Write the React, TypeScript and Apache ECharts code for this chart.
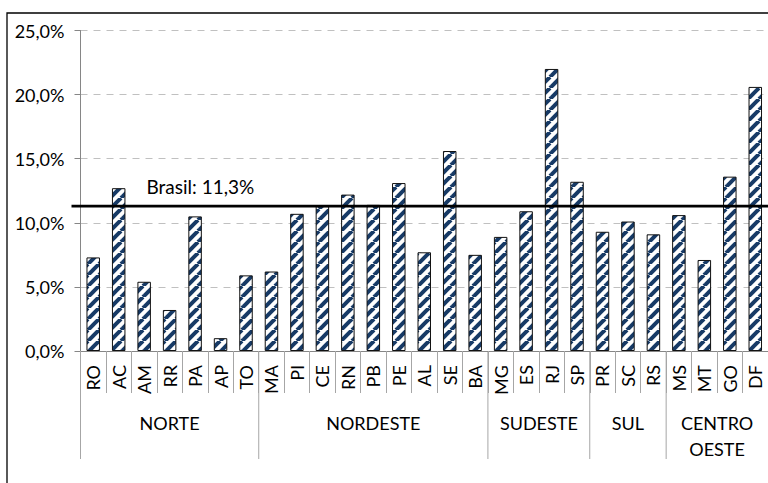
import React, { useEffect, useRef } from "react";
import * as echarts from "echarts";

const states = ["RO","AC","AM","RR","PA","AP","TO","MA","PI","CE","RN","PB","PE","AL","SE","BA","MG","ES","RJ","SP","PR","SC","RS","MS","MT","GO","DF"];
const values = [7.3,12.7,5.4,3.2,10.5,1.0,5.9,6.2,10.7,11.3,12.2,11.4,13.1,7.7,15.6,7.5,8.9,10.9,22.0,13.2,9.3,10.1,9.1,10.6,7.1,13.6,20.6];
const regions = ["NORTE","NORDESTE","SUDESTE","SUL","CENTRO\nOESTE"];
const regionSizes = [7,9,4,3,4];
const brasilValue = 11.3;
const brasilLabel = "Brasil: 11,3%";
const yMin = 0;
const yMax = 25;
const yStep = 5;

const FONT = "Lato";

function makePattern(): HTMLCanvasElement {
  const s = 11;
  const c = document.createElement("canvas");
  c.width = s;
  c.height = s;
  const ctx = c.getContext("2d")!;
  ctx.fillStyle = "#ffffff";
  ctx.fillRect(0, 0, s, s);
  ctx.strokeStyle = "#173A66";
  ctx.lineWidth = 4;
  for (const o of [-s, 0, s]) {
    ctx.beginPath();
    ctx.moveTo(o, s);
    ctx.lineTo(o + s, 0);
    ctx.stroke();
  }
  return c;
}

export default function App() {
  const ref = useRef<HTMLDivElement>(null);
  useEffect(() => {
    if (!ref.current) return;
    const chart = echarts.init(ref.current, null, { renderer: "svg" });
    const pattern = makePattern();
    chart.setOption({
      animation: false,
      backgroundColor: "#ffffff",
      textStyle: { fontFamily: FONT },
      grid: { left: 80.5, top: 30.5, width: 692, height: 320.5, containLabel: false },
      xAxis: {
        type: "category",
        data: states,
        boundaryGap: true,
        axisLine: { show: true, lineStyle: { color: "#868686", width: 1 } },
        axisTick: { show: true, interval: 0, length: 42, lineStyle: { color: "#A6A6A6" } },
        axisLabel: { interval: 0, rotate: 90, margin: 14, fontSize: 18, color: "#000", fontFamily: FONT },
        splitLine: { show: false },
      },
      yAxis: {
        type: "value",
        min: yMin,
        max: yMax,
        interval: yStep,
        axisLine: { show: true, lineStyle: { color: "#868686", width: 1 } },
        axisTick: { show: true, length: 6, lineStyle: { color: "#868686" } },
        axisLabel: {
          margin: 16,
          fontSize: 18,
          color: "#000",
          fontFamily: FONT,
          formatter: (v: number) => v.toFixed(1).replace(".", ",") + "%",
        },
        splitLine: { show: true, lineStyle: { color: "#C0C0C0", type: [7, 6], width: 1 } },
      },
      series: [
        {
          type: "bar",
          data: values,
          barWidth: "53%",
          itemStyle: {
            color: { image: pattern, repeat: "repeat", imageWidth: 11, imageHeight: 11 } as any,
            borderColor: "#111",
            borderWidth: 1,
          },
        },
      ],
    });

    const axisY = chart.convertToPixel({ yAxisIndex: 0 }, 0) as number;
    const lineY = chart.convertToPixel({ yAxisIndex: 0 }, brasilValue) as number;
    const c0 = chart.convertToPixel({ xAxisIndex: 0 }, 0) as number;
    const c1 = chart.convertToPixel({ xAxisIndex: 0 }, 1) as number;
    const bw = c1 - c0;
    const boundary = (i: number) => c0 - bw / 2 + i * bw;
    const axisX = boundary(0);

    const graphics: any[] = [
      {
        type: "rect",
        shape: { x: 7, y: 13, width: 800, height: 500 },
        style: { fill: "none", stroke: "#000", lineWidth: 1.3 },
        silent: true,
      },
      {
        type: "line",
        shape: { x1: axisX - 9, y1: lineY, x2: 800, y2: lineY },
        style: { stroke: "#000", lineWidth: 2.6 },
        z: 10,
      },
      {
        type: "text",
        x: axisX + 66,
        y: lineY - 20,
        style: { text: brasilLabel, fontSize: 19, fontFamily: FONT, fill: "#000", verticalAlign: "middle", align: "left" },
        z: 10,
      },
    ];
    let start = 0;
    regionSizes.forEach((n, k) => {
      const xb = boundary(start);
      graphics.push({
        type: "line",
        shape: { x1: xb, y1: axisY, x2: xb, y2: axisY + 108 },
        style: { stroke: "#A6A6A6", lineWidth: 1 },
      });
      const xc = (boundary(start) + boundary(start + n)) / 2;
      graphics.push({
        type: "text",
        x: xc,
        y: axisY + 59,
        style: {
          text: regions[k],
          fontSize: 18,
          fontFamily: FONT,
          fill: "#000",
          align: "center",
          verticalAlign: "top",
          lineHeight: 26,
        },
      });
      start += n;
    });
    chart.setOption({ graphic: graphics });

    return () => chart.dispose();
  }, []);
  return (
    <div
      ref={ref}
      style={{ position: "absolute", left: 0, top: 0, width: 768, height: 483, background: "#fff" }}
    />
  );
}
